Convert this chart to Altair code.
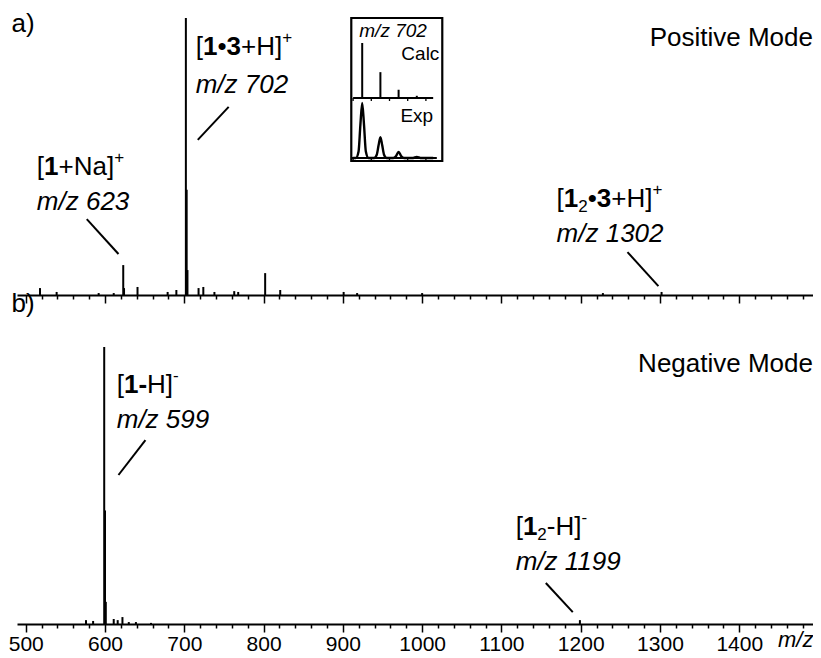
import altair as alt
import pandas as pd

FONT = "Liberation Sans"

# ---------------- data ----------------
# a) positive mode stick spectrum (m/z, relative intensity %)
pos_mz = [518, 539, 592, 611, 623, 624, 641, 679, 690, 702, 703, 704, 718, 724, 738, 763, 768, 802, 821, 901, 918, 1000, 1228, 1302]
pos_int = [2.5, 1.1, 0.7, 0.7, 10.8, 2.5, 2.9, 1.1, 1.8, 100, 38, 9, 2.5, 2.9, 1.1, 1.4, 1.1, 7.9, 1.8, 1.1, 0.7, 0.7, 0.7, 1.1]

# b) negative mode stick spectrum
neg_mz = [576, 585, 599, 600, 601, 611, 616, 622, 630, 639, 658, 1199]
neg_int = [1.4, 1.1, 100, 41, 8, 1.8, 1.4, 2.5, 0.7, 0.7, 0.4, 1.4]

# inset: calculated isotope pattern of m/z 702
calc_mz = [702, 703, 704, 705]
calc_int = [100, 47, 15, 4]
# inset: experimental profile
exp_mz = [701.5, 701.65, 701.8, 701.9, 702.0, 702.1, 702.2, 702.35, 702.65, 702.8, 702.9, 703.0, 703.1,
          703.2, 703.35, 703.7, 703.85, 704.0, 704.15, 704.3, 704.8, 705.0, 705.2, 705.9]
exp_int = [0, 0, 12, 60, 100, 60, 12, 0, 0, 6, 23, 38, 23, 6, 0, 0, 3, 11, 3, 0, 0, 2, 0, 0]
inset_ticks = [701.5, 702.5, 703.5, 704.5, 705.5]

tick_values = list(range(500, 1481, 20))

# annotation texts (segments: text, style)
ann_a_labels = [
    [("a)", "n")],
    [("[", "n"), ("1", "b"), ("+Na]", "n"), ("+", "sup")],
    [("m/z 623", "i")],
    [("[", "n"), ("1", "b"), ("•", "n"), ("3", "b"), ("+H]", "n"), ("+", "sup")],
    [("m/z 702", "i")],
    [("[", "n"), ("1", "b"), ("2", "sub"), ("•", "n"), ("3", "b"), ("+H]", "n"), ("+", "sup")],
    [("m/z 1302", "i")],
    [("Positive Mode", "n")],
]
ann_a_x = [482, 514, 514, 714.4, 714.4, 1169.6, 1169.6, 1493]
ann_a_y = [95.0, 43.3, 30.7, 86.6, 72.9, 31.8, 19.1, 89.9]
ann_a_align = ["left", "left", "left", "left", "left", "left", "left", "right"]

lead_a_x = [577, 756, 1259]
lead_a_y = [27.4, 67.9, 15.5]
lead_a_x2 = [617, 717, 1298]
lead_a_y2 = [14.8, 56.0, 3.2]

ann_b_labels = [
    [("b)", "n")],
    [("[", "n"), ("1", "b"), ("-", "b"), ("H]", "n"), ("-", "sup")],
    [("m/z 599", "i")],
    [("[", "n"), ("1", "b"), ("2", "sub"), ("-H]", "n"), ("-", "sup")],
    [("m/z 1199", "i")],
    [("Negative Mode", "n")],
]
ann_b_x = [482, 614.8, 614.8, 1118, 1118, 1493]
ann_b_y = [112.8, 83.4, 70.8, 32.0, 19.5, 91.0]
ann_b_align = ["left", "left", "left", "left", "left", "right"]

lead_b_x = [651, 1156]
lead_b_y = [66.4, 14.8]
lead_b_x2 = [617, 1190]
lead_b_y2 = [53.8, 4.3]

# ---------------- helpers ----------------
WID = {' ': 278, '+': 584, '-': 333, '[': 278, ']': 278, 'H': 722, 'N': 722, 'a': 556, '•': 350,
       'm': 833, '/': 278, 'z': 500, ')': 333, 'b': 556}
STY = {
    "n": dict(fs=26, fw="normal", fst="normal", dy=0),
    "b": dict(fs=26, fw="bold", fst="normal", dy=0),
    "i": dict(fs=26, fw="normal", fst="italic", dy=0),
    "sup": dict(fs=17, fw="normal", fst="normal", dy=-12),
    "sub": dict(fs=17, fw="normal", fst="normal", dy=5),
}


def width(text, fs):
    return sum(WID.get(c, 556) for c in text) * fs / 1000.0


def rich_rows(labels, xs, ys, aligns):
    rows = []
    for segs, x, y, al in zip(labels, xs, ys, aligns):
        dx = 0.0
        for t, s in segs:
            st = STY[s]
            rows.append(dict(x=x, y=y, t=t, dx=dx, dy=st["dy"], fs=st["fs"], fw=st["fw"],
                             fst=st["fst"], al=al))
            dx += width(t, st["fs"])
    return pd.DataFrame(rows)


def text_layer(df, X, Y):
    return alt.Chart(df).mark_text(
        font=FONT, color="black", baseline="alphabetic",
        align={"expr": "datum.al"}, dx={"expr": "datum.dx"}, dy={"expr": "datum.dy"},
        fontWeight={"expr": "datum.fw"}, fontStyle={"expr": "datum.fst"},
    ).encode(x=X("x:Q"), y=Y("y:Q"), text="t:N", size=alt.Size("fs:Q", scale=None, legend=None))


TICKSIZE = {"condition": {"test": "datum.value % 100 === 0", "value": 8}, "value": 4}

XDOM = [489, 1493]
W_PLOT = 796
H_A = 287
H_B = 329
YA_DOM = [0, 103.6]
YB_DOM = [0, 118.8]


def xs(axis=None):
    return lambda f: alt.X(f, scale=alt.Scale(domain=XDOM, nice=False, zero=False), axis=axis)


def ys(dom):
    return lambda f: alt.Y(f, scale=alt.Scale(domain=dom, nice=False, zero=False), axis=None)


axis_a = alt.Axis(values=tick_values, tickSize=TICKSIZE, tickWidth=1.5, tickColor="black",
                  domainColor="black", domainWidth=2, labels=False, title=None, grid=False)
axis_b = alt.Axis(values=tick_values, tickSize=TICKSIZE, tickWidth=1.5, tickColor="black",
                  domainColor="black", domainWidth=2, grid=False,
                  labelExpr="datum.value % 100 === 0 ? datum.label : ''", labelOverlap=False,
                  labelFont=FONT, labelFontSize=21, labelColor="black", labelPadding=1,
                  labelFlush=False, format="d",
                  title="m/z", titleFont=FONT, titleFontSize=22, titleFontStyle="italic",
                  titleFontWeight="normal", titleColor="black", titleX=796, titleY=22,
                  titleAlign="right", titleBaseline="alphabetic", titleAnchor="end")

# ---------------- panel a ----------------
pos_df = pd.DataFrame({"mz": pos_mz, "i": pos_int, "base": 0})
XA0 = xs(axis_a)
XA = xs()
YA = ys(YA_DOM)

spec_a = alt.Chart(pos_df).mark_rule(color="black", strokeWidth=2).encode(
    x=XA0("mz:Q"), y=YA("i:Q"), y2="base:Q")
txt_a = text_layer(rich_rows(ann_a_labels, ann_a_x, ann_a_y, ann_a_align), XA, YA)
lead_a = alt.Chart(pd.DataFrame({"x": lead_a_x, "y": lead_a_y, "x2": lead_a_x2, "y2": lead_a_y2})).mark_rule(
    color="black", strokeWidth=2).encode(x=XA("x:Q"), y=YA("y:Q"), x2="x2:Q", y2="y2:Q")

# inset scales (placed inside panel a)
XI = lambda f: alt.X(f, scale=alt.Scale(domain=[701, 706], range=[327.0, 418.0], nice=False, zero=False), axis=None)
YC = lambda f: alt.Y(f, scale=alt.Scale(domain=[0, 100], range=[90, 35], nice=False, zero=False), axis=None)
YE = lambda f: alt.Y(f, scale=alt.Scale(domain=[0, 100], range=[150, 95], nice=False, zero=False), axis=None)

box = alt.Chart(pd.DataFrame({"x": [701.4], "x2": [706.4], "y": [145.5], "y2": [-114.5]})).mark_rect(
    fill="white", stroke="black", strokeWidth=2.2).encode(x=XI("x:Q"), x2="x2:Q", y=YC("y:Q"), y2="y2:Q")
calc_df = pd.DataFrame({"mz": calc_mz, "i": calc_int, "base": 0})
calc = alt.Chart(calc_df).mark_rule(color="black", strokeWidth=2).encode(x=XI("mz:Q"), y=YC("i:Q"), y2="base:Q")
calc_base = alt.Chart(pd.DataFrame({"x": [701.5], "x2": [705.9], "y": [0]})).mark_rule(
    color="black", strokeWidth=2).encode(x=XI("x:Q"), x2="x2:Q", y=YC("y:Q"))
calc_ticks = alt.Chart(pd.DataFrame({"x": inset_ticks, "y": 0, "y2": -5.5})).mark_rule(
    color="black", strokeWidth=1.3).encode(x=XI("x:Q"), y=YC("y:Q"), y2="y2:Q")
exp_df = pd.DataFrame({"mz": exp_mz, "i": exp_int})
expl = alt.Chart(exp_df).mark_line(color="black", strokeWidth=2.4, interpolate="monotone").encode(
    x=XI("mz:Q"), y=YE("i:Q"))
exp_base = alt.Chart(pd.DataFrame({"x": [701.4], "x2": [706.1], "y": [0]})).mark_rule(
    color="black", strokeWidth=2).encode(x=XI("x:Q"), x2="x2:Q", y=YE("y:Q"))
exp_ticks = alt.Chart(pd.DataFrame({"x": inset_ticks, "y": 0, "y2": -5.5})).mark_rule(
    color="black", strokeWidth=1.3).encode(x=XI("x:Q"), y=YE("y:Q"), y2="y2:Q")

inset_txt_c = alt.Chart(pd.DataFrame({"x": [701.84, 706.24], "y": [111, 69], "t": ["m/z 702", "Calc"],
                                      "st": ["italic", "normal"], "al": ["left", "right"]})).mark_text(
    font=FONT, fontSize=19, color="black", baseline="alphabetic",
    align={"expr": "datum.al"}, fontStyle={"expr": "datum.st"}).encode(x=XI("x:Q"), y=YC("y:Q"), text="t:N")
inset_txt_e = alt.Chart(pd.DataFrame({"x": [705.9], "y": [65.5], "t": ["Exp"]})).mark_text(
    font=FONT, fontSize=19, color="black", baseline="alphabetic", align="right").encode(
    x=XI("x:Q"), y=YE("y:Q"), text="t:N")

panel_a = alt.layer(spec_a, txt_a, lead_a, box, calc, calc_base, calc_ticks, expl, exp_base, exp_ticks,
                    inset_txt_c, inset_txt_e).resolve_scale(
    x="independent", y="independent").properties(width=W_PLOT, height=H_A)

# ---------------- panel b ----------------
neg_df = pd.DataFrame({"mz": neg_mz, "i": neg_int, "base": 0})
XB0 = xs(axis_b)
YB = ys(YB_DOM)
spec_b = alt.Chart(neg_df).mark_rule(color="black", strokeWidth=2).encode(
    x=XB0("mz:Q"), y=YB("i:Q"), y2="base:Q")
txt_b = text_layer(rich_rows(ann_b_labels, ann_b_x, ann_b_y, ann_b_align), XA, YB)
lead_b = alt.Chart(pd.DataFrame({"x": lead_b_x, "y": lead_b_y, "x2": lead_b_x2, "y2": lead_b_y2})).mark_rule(
    color="black", strokeWidth=2).encode(x=XA("x:Q"), y=YB("y:Q"), x2="x2:Q", y2="y2:Q")
panel_b = alt.layer(spec_b, txt_b, lead_b).resolve_scale(
    x="independent", y="independent").properties(width=W_PLOT, height=H_B)

chart = alt.vconcat(panel_a, panel_b, spacing=0, bounds="flush").properties(
    padding={"left": 0, "top": 0, "right": 0, "bottom": 0}
).configure(font=FONT).configure_view(stroke=None)

chart.save("out.html", embed_options={"renderer": "svg", "actions": False})
